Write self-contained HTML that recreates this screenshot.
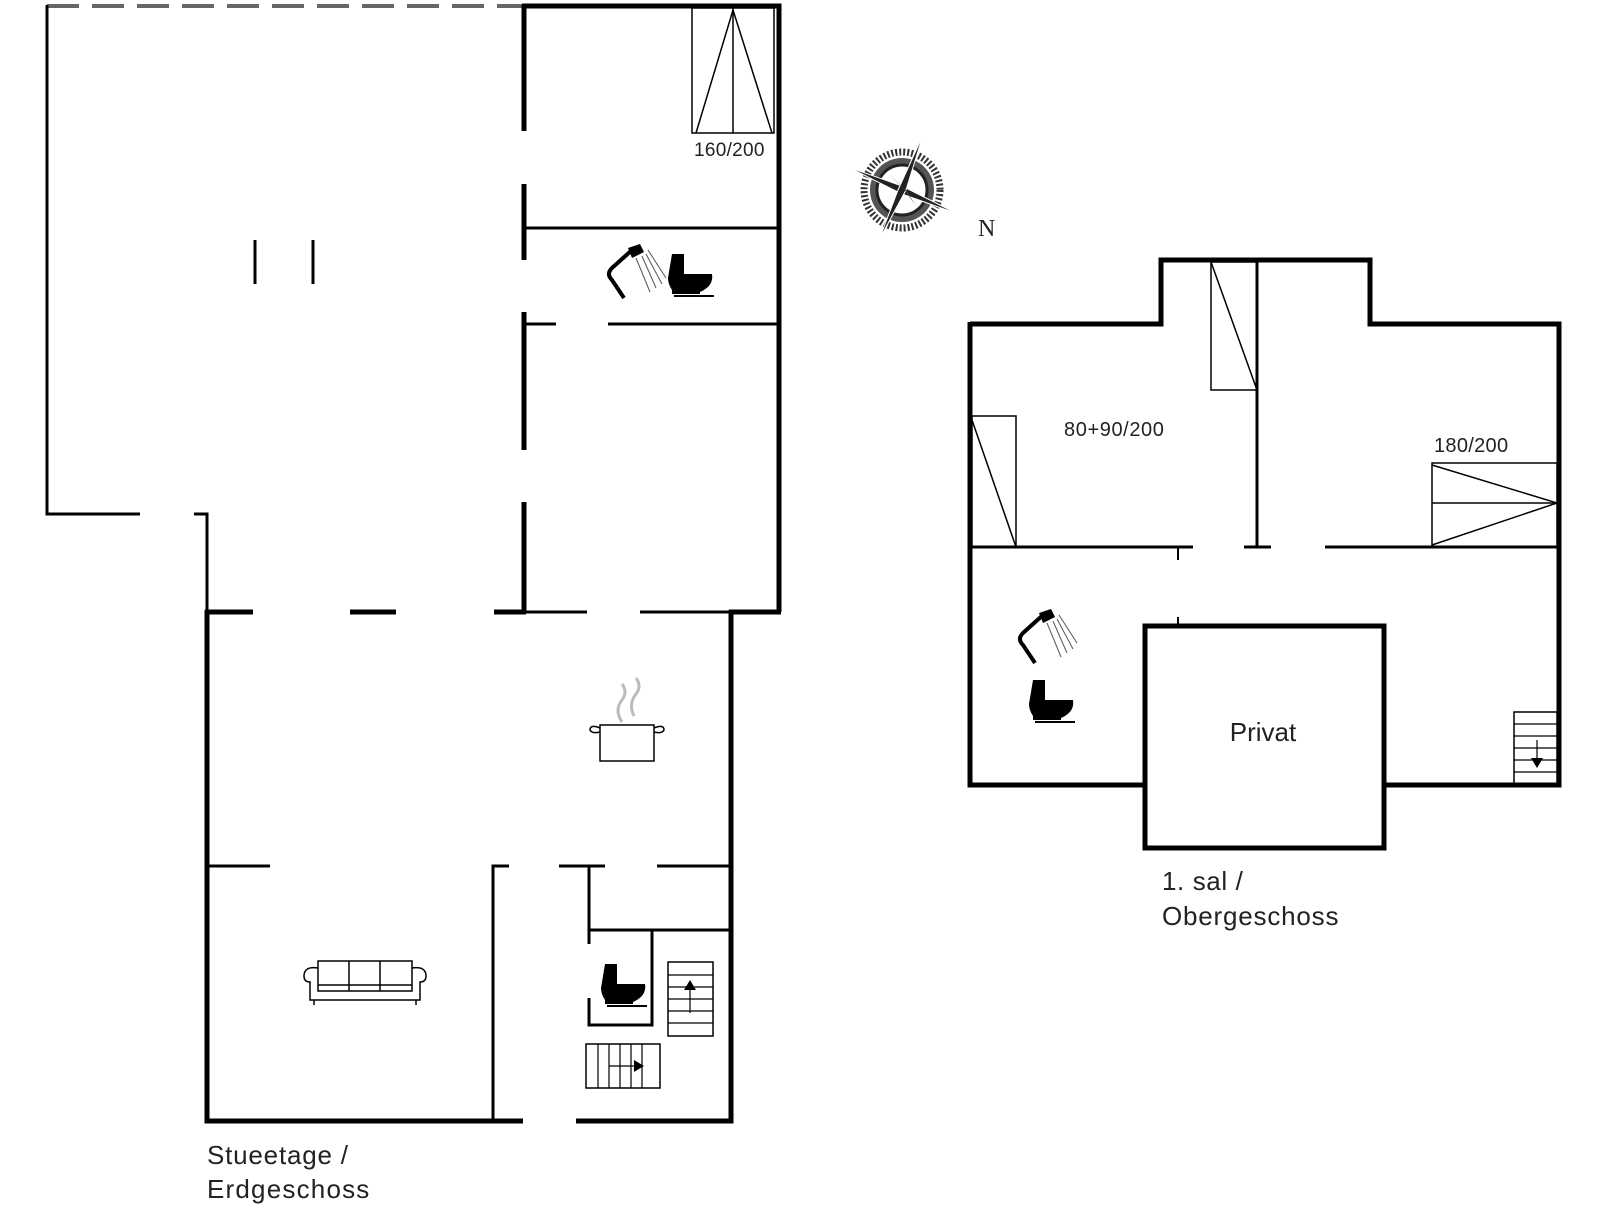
<!DOCTYPE html>
<html><head><style>html,body{margin:0;padding:0;background:#fff;width:1606px;height:1205px;overflow:hidden}</style></head>
<body>
<svg width="1606" height="1205" viewBox="0 0 1606 1205" xmlns="http://www.w3.org/2000/svg" font-family="Liberation Sans, sans-serif">
<g stroke="#000" fill="none" stroke-linecap="butt">
<line x1="47" y1="6" x2="524" y2="6" stroke="#666" stroke-width="4" stroke-dasharray="32 13"/>
<polyline points="47,5 47,514 140,514" stroke-width="3"/>
<polyline points="194,514 207,514 207,612" stroke-width="3"/>
<polyline points="522,6 779,6 779,612" stroke-width="5"/>
<line x1="524" y1="5" x2="524" y2="131" stroke-width="5"/>
<line x1="524" y1="184" x2="524" y2="260" stroke-width="5"/>
<line x1="524" y1="312" x2="524" y2="450" stroke-width="5"/>
<line x1="524" y1="502" x2="524" y2="612" stroke-width="5"/>
<line x1="524" y1="228" x2="779" y2="228" stroke-width="3"/>
<line x1="524" y1="324" x2="556" y2="324" stroke-width="3"/>
<line x1="608" y1="324" x2="779" y2="324" stroke-width="3"/>
<line x1="255" y1="240" x2="255" y2="284" stroke-width="3"/>
<line x1="313" y1="240" x2="313" y2="284" stroke-width="3"/>
<rect x="692" y="8" width="82" height="125" stroke-width="1.5"/>
<line x1="733" y1="8" x2="733" y2="133" stroke-width="1.5"/>
<polyline points="696,133 733,10 772,133" stroke-width="1.5"/>
<line x1="205" y1="612" x2="253" y2="612" stroke-width="5"/>
<line x1="350" y1="612" x2="396" y2="612" stroke-width="5"/>
<line x1="494" y1="612" x2="526" y2="612" stroke-width="5"/>
<line x1="526" y1="612" x2="587" y2="612" stroke-width="3"/>
<line x1="640" y1="612" x2="731" y2="612" stroke-width="3"/>
<line x1="729" y1="612" x2="781" y2="612" stroke-width="5"/>
<polyline points="207,610 207,1121 523,1121" stroke-width="5"/>
<polyline points="576,1121 731,1121 731,610" stroke-width="5"/>
<line x1="206" y1="866" x2="270" y2="866" stroke-width="3"/>
<polyline points="509,866 493,866 493,1121" stroke-width="3"/>
<line x1="559" y1="866" x2="605" y2="866" stroke-width="3"/>
<line x1="657" y1="866" x2="731" y2="866" stroke-width="3"/>
<line x1="589" y1="866" x2="589" y2="944" stroke-width="3"/>
<line x1="589" y1="930" x2="731" y2="930" stroke-width="3"/>
<polyline points="589,998 589,1025 652,1025 652,930" stroke-width="3"/>
<rect x="668" y="962" width="45" height="74" stroke-width="1.5"/>
<g stroke-width="1.2"><line x1="668" y1="975" x2="713" y2="975"/><line x1="668" y1="987" x2="713" y2="987"/><line x1="668" y1="999" x2="713" y2="999"/><line x1="668" y1="1011" x2="713" y2="1011"/><line x1="668" y1="1023" x2="713" y2="1023"/><line x1="690" y1="1013" x2="690" y2="985"/></g>
<polygon points="684,990 696,990 690,980" fill="#000" stroke="none"/>
<rect x="586" y="1044" width="74" height="44" stroke-width="1.5"/>
<g stroke-width="1.2"><line x1="598" y1="1044" x2="598" y2="1088"/><line x1="609" y1="1044" x2="609" y2="1088"/><line x1="620" y1="1044" x2="620" y2="1088"/><line x1="631" y1="1044" x2="631" y2="1088"/><line x1="642" y1="1044" x2="642" y2="1088"/><line x1="609" y1="1066" x2="636" y2="1066"/></g>
<polygon points="634,1060 634,1072 644,1066" fill="#000" stroke="none"/>
<g stroke-width="1.5">
<rect x="318" y="961" width="94" height="30"/>
<line x1="349" y1="961" x2="349" y2="991"/><line x1="380" y1="961" x2="380" y2="991"/>
<line x1="318" y1="985" x2="412" y2="985"/>
<path d="M318,968 Q304,966 304,976 Q304,982 310,982 L310,1000 L420,1000 L420,982 Q426,982 426,976 Q426,966 412,968"/>
<line x1="314" y1="1000" x2="314" y2="1005"/><line x1="416" y1="1000" x2="416" y2="1005"/>
</g>
<g stroke-width="1.5">
<rect x="600" y="725" width="54" height="36"/>
<path d="M600,728 Q590,724 590,730 Q592,734 600,732"/>
<path d="M654,728 Q664,724 664,730 Q662,734 654,732"/>
<path d="M622,722 Q614,710 622,700 Q628,692 622,684" stroke="#bbb" stroke-width="3"/>
<path d="M634,716 Q628,704 636,694 Q642,686 636,678" stroke="#bbb" stroke-width="3"/>
</g>
<polyline points="970,324 1161,324 1161,260 1370,260 1370,324 1559,324 1559,785 1384,785" stroke-width="5"/>
<polyline points="1145,785 970,785 970,322" stroke-width="5"/>
<rect x="1145" y="626" width="239" height="222" stroke-width="5"/>
<line x1="970" y1="547" x2="1193" y2="547" stroke-width="3"/>
<line x1="1244" y1="547" x2="1271" y2="547" stroke-width="3"/>
<line x1="1325" y1="547" x2="1559" y2="547" stroke-width="3"/>
<line x1="1257" y1="260" x2="1257" y2="547" stroke-width="3"/>
<line x1="1178" y1="547" x2="1178" y2="560" stroke-width="2"/>
<line x1="1178" y1="617" x2="1178" y2="626" stroke-width="2"/>
<rect x="1211" y="262" width="46" height="128" stroke-width="1.5"/>
<line x1="1211" y1="262" x2="1257" y2="390" stroke-width="1.5"/>
<rect x="972" y="416" width="44" height="131" stroke-width="1.5"/>
<line x1="972" y1="420" x2="1016" y2="547" stroke-width="1.5"/>
<rect x="1432" y="463" width="125" height="84" stroke-width="1.5"/>
<line x1="1432" y1="503" x2="1557" y2="503" stroke-width="1.5"/>
<polyline points="1432,465 1557,503 1432,545" stroke-width="1.5"/>
<rect x="1514" y="712" width="43" height="73" stroke-width="1.5"/>
<g stroke-width="1.2"><line x1="1514" y1="724" x2="1557" y2="724"/><line x1="1514" y1="736" x2="1557" y2="736"/><line x1="1514" y1="748" x2="1557" y2="748"/><line x1="1514" y1="760" x2="1557" y2="760"/><line x1="1514" y1="772" x2="1557" y2="772"/><line x1="1537" y1="740" x2="1537" y2="762"/></g>
<polygon points="1531,758 1543,758 1537,768" fill="#000" stroke="none"/>
</g>
<g id="sh1">
<path d="M632,250 L612,268 Q606,274 612,280 L624,298" stroke="#000" stroke-width="4" fill="none"/>
<path d="M628,248 L640,244 L644,252 L632,258 Z" fill="#000"/>
<g stroke="#555" stroke-width="1"><line x1="642" y1="256" x2="656" y2="288"/><line x1="646" y1="254" x2="662" y2="284"/><line x1="648" y1="250" x2="666" y2="278"/><line x1="636" y1="258" x2="650" y2="292"/></g>
</g>
<g id="t1">
<path d="M672,254 h12 v20 h28 q2,12 -12,18 v2 h-28 v-4 q-4,-6 -4,-12 Z" fill="#000"/>
<line x1="674" y1="296" x2="714" y2="296" stroke="#000" stroke-width="2"/>
</g>
<use href="#t1" transform="translate(-67,710)"/>
<use href="#sh1" transform="translate(411,365)"/>
<use href="#t1" transform="translate(361,426)"/>
<g transform="translate(902,190)">
<circle r="38" fill="none" stroke="#333" stroke-width="7" stroke-dasharray="2 2"/>
<circle r="32" fill="#555"/>
<circle r="25" fill="#fff" stroke="#222" stroke-width="3"/>
<polygon points="-54,-23 0,-4 56,24 0,4" fill="#222" stroke="#fff" stroke-width="1"/>
<polygon points="21,-55 4,0 -23,50 -4,0" fill="#222" stroke="#fff" stroke-width="1"/>
<polygon points="-14,-16 0,-4 14,16 4,0" fill="#444"/>
</g>
<g fill="#222">
<text x="978" y="236" font-family="Liberation Serif, serif" font-size="24">N</text>
<text x="694" y="156" font-size="19" letter-spacing="0.3">160/200</text>
<text x="1064" y="436" font-size="20" letter-spacing="0.6">80+90/200</text>
<text x="1434" y="452" font-size="20" letter-spacing="0.3">180/200</text>
<text x="1263" y="741" font-size="26" text-anchor="middle">Privat</text>
<text x="1162" y="890" font-size="26" letter-spacing="0.6">1. sal /</text>
<text x="1162" y="925" font-size="26" letter-spacing="0.8">Obergeschoss</text>
<text x="207" y="1164" font-size="26" letter-spacing="0.8">Stueetage /</text>
<text x="207" y="1198" font-size="26" letter-spacing="1.2">Erdgeschoss</text>
</g>
</svg>
</body></html>
